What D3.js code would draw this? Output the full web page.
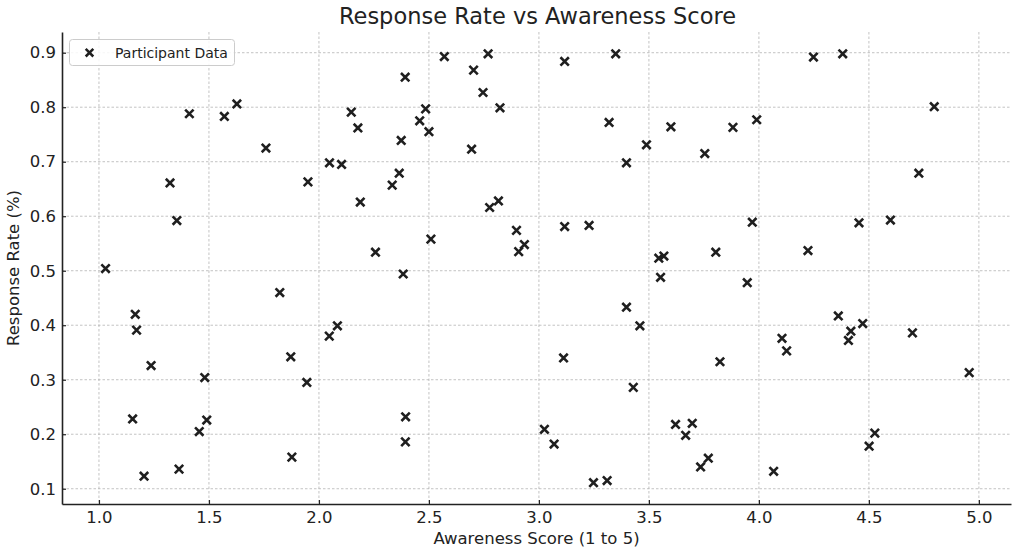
<!DOCTYPE html>
<html>
<head>
<meta charset="utf-8">
<script src="https://cdn.jsdelivr.net/npm/d3@7"></script>
<style>
  html, body { margin: 0; padding: 0; background: #fff; }
  svg { display: block; }
  text { font-family: "DejaVu Sans", sans-serif; fill: #222; }
</style>
</head>
<body>
<svg id="chart" width="1015" height="553"></svg>
<script>
const awareness = [
  1.030, 1.165, 1.171, 1.237, 1.153, 1.205, 1.364, 1.456, 1.490, 1.481,
  1.323, 1.354, 1.411, 1.570, 1.627, 1.759, 1.822, 1.872, 1.877, 1.945, 1.950,
  2.047, 2.084, 2.048, 2.103, 2.147, 2.177, 2.188, 2.257, 2.333, 2.365,
  2.374, 2.383, 2.392, 2.394, 2.393, 2.458, 2.485, 2.500,
  2.509, 2.570, 2.694, 2.703, 2.746, 2.769, 2.776, 2.816, 2.823, 2.898, 2.908, 2.934,
  3.025, 3.069, 3.112, 3.117, 3.117, 3.228, 3.248, 3.310, 3.319, 3.349,
  3.398, 3.398, 3.429, 3.459, 3.489,
  3.545, 3.568, 3.553, 3.600, 3.621, 3.667, 3.697, 3.735, 3.770, 3.754,
  3.804, 3.823, 3.882, 3.947, 3.970, 3.990,
  4.067, 4.105, 4.126, 4.223, 4.248, 4.361, 4.381, 4.407, 4.418, 4.455,
  4.472, 4.501, 4.527, 4.598, 4.698, 4.727, 4.797, 4.956
];
const responseRate = [
  0.504, 0.420, 0.391, 0.326, 0.228, 0.123, 0.136, 0.205, 0.226, 0.304,
  0.661, 0.592, 0.788, 0.783, 0.806, 0.725, 0.460, 0.342, 0.158, 0.295, 0.663,
  0.380, 0.399, 0.698, 0.695, 0.791, 0.762, 0.626, 0.534, 0.657, 0.679,
  0.739, 0.494, 0.855, 0.232, 0.186, 0.775, 0.797, 0.755,
  0.558, 0.893, 0.723, 0.868, 0.827, 0.898, 0.616, 0.628, 0.799, 0.574, 0.535, 0.548,
  0.209, 0.182, 0.340, 0.581, 0.884, 0.583, 0.111, 0.115, 0.772, 0.898,
  0.698, 0.433, 0.286, 0.399, 0.731,
  0.523, 0.527, 0.488, 0.764, 0.218, 0.198, 0.220, 0.140, 0.156, 0.715,
  0.534, 0.333, 0.763, 0.478, 0.589, 0.777,
  0.132, 0.376, 0.353, 0.537, 0.892, 0.417, 0.898, 0.372, 0.389, 0.588,
  0.403, 0.178, 0.202, 0.593, 0.386, 0.679, 0.801, 0.313
];
const xTicks = [1.0, 1.5, 2.0, 2.5, 3.0, 3.5, 4.0, 4.5, 5.0];
const yTicks = [0.1, 0.2, 0.3, 0.4, 0.5, 0.6, 0.7, 0.8, 0.9];
const titleText = "Response Rate vs Awareness Score";
const xLabel = "Awareness Score (1 to 5)";
const yLabel = "Response Rate (%)";
const seriesName = "Participant Data";

(function () {
const data = awareness.map((a, i) => ({ x: a, y: responseRate[i] }));

const pL = 62, pR = 1011, pT = 32, pB = 504;
const svg = d3.select("#chart");

const x = d3.scaleLinear().domain([0.832, 5.146]).range([pL, pR]);
const y = d3.scaleLinear().domain([0.072, 0.938]).range([pB, pT]);

// grid
const grid = svg.append("g");
grid.selectAll(".gx").data(xTicks).join("line")
  .attr("x1", d => x(d)).attr("x2", d => x(d))
  .attr("y1", pT).attr("y2", pB)
  .attr("stroke", "#b4b4b4").attr("stroke-width", 0.8).attr("stroke-dasharray", "2.5,2");
grid.selectAll(".gy").data(yTicks).join("line")
  .attr("y1", d => y(d)).attr("y2", d => y(d))
  .attr("x1", pL).attr("x2", pR)
  .attr("stroke", "#b4b4b4").attr("stroke-width", 0.8).attr("stroke-dasharray", "2.5,2");

// axes
const xAxis = d3.axisBottom(x).tickValues(xTicks).tickFormat(d3.format(".1f"))
  .tickSizeInner(-4).tickSizeOuter(0).tickPadding(7);
const yAxis = d3.axisLeft(y).tickValues(yTicks).tickFormat(d3.format(".1f"))
  .tickSizeInner(-4).tickSizeOuter(0).tickPadding(6);

const gx = svg.append("g").attr("transform", `translate(0,${pB})`).call(xAxis);
const gy = svg.append("g").attr("transform", `translate(${pL},0)`).call(yAxis);
[gx, gy].forEach(g => {
  g.select(".domain").attr("stroke", "#222").attr("stroke-width", 1.6);
  g.selectAll(".tick line").attr("stroke", "#222").attr("stroke-width", 1.2);
  g.selectAll(".tick text").attr("font-size", "16.5px").attr("fill", "#222")
    .attr("font-family", "DejaVu Sans, sans-serif");
});

// points
const s = 4.2;
const pts = svg.append("g");
pts.selectAll("path").data(data).join("path")
  .attr("transform", d => `translate(${x(d.x)},${y(d.y)})`)
  .attr("d", `M${-s},${-s}L${s},${s}M${-s},${s}L${s},${-s}`)
  .attr("stroke", "#1f1f1f").attr("stroke-width", 2.6).attr("fill", "none");

// title & labels
svg.append("text").attr("x", (pL + pR) / 2 + 1).attr("y", 24)
  .attr("text-anchor", "middle").attr("font-size", "22.5px").text(titleText);
svg.append("text").attr("x", (pL + pR) / 2).attr("y", 544)
  .attr("text-anchor", "middle").attr("font-size", "16.5px").text(xLabel);
svg.append("text").attr("transform", `translate(19,${(pT + pB) / 2}) rotate(-90)`)
  .attr("text-anchor", "middle").attr("font-size", "16.5px").text(yLabel);

// legend
const ls = 3.8;
const lg = svg.append("g");
lg.append("rect").attr("x", 69.5).attr("y", 39.5).attr("width", 165).attr("height", 26)
  .attr("rx", 3).attr("fill", "#fff").attr("fill-opacity", 0.85)
  .attr("stroke", "#cccccc").attr("stroke-width", 1);
lg.append("path").attr("transform", "translate(89.5,52.7)")
  .attr("d", `M${-ls},${-ls}L${ls},${ls}M${-ls},${ls}L${ls},${-ls}`)
  .attr("stroke", "#1f1f1f").attr("stroke-width", 2.5);
lg.append("text").attr("x", 115).attr("y", 52.7).attr("dy", "0.35em")
  .attr("font-size", "14px").text(seriesName);
})();
</script>
</body>
</html>
